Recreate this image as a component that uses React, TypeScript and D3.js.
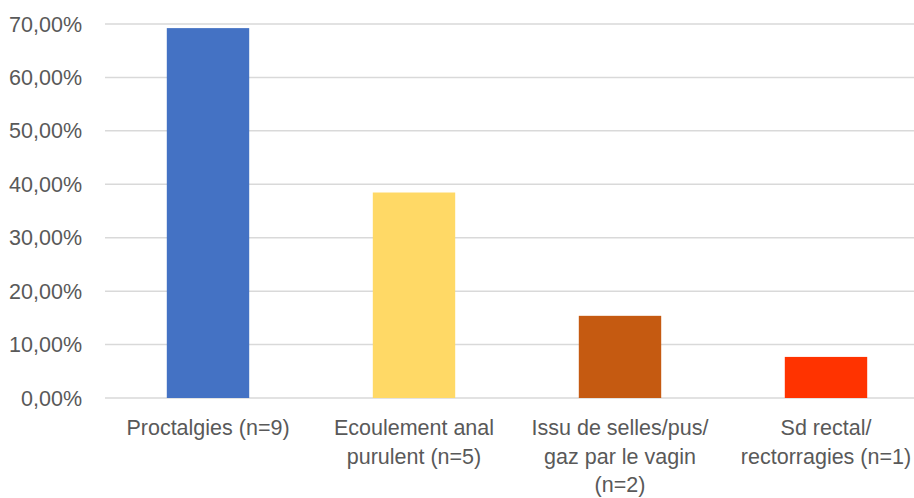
import { scaleBand, scaleLinear } from "d3";
import { useEffect } from "react";

const categories = [
  "Proctalgies (n=9)",
  "Ecoulement anal\npurulent (n=5)",
  "Issu de selles/pus/\ngaz par le vagin\n(n=2)",
  "Sd rectal/\nrectorragies (n=1)",
];
const values = [0.6923, 0.3846, 0.1538, 0.0769];
const colors = ["#4472c4", "#ffd966", "#c55a11", "#ff3300"];
const yTicks = [0, 0.1, 0.2, 0.3, 0.4, 0.5, 0.6, 0.7];

const width = 914;
const height = 498;

const App = () => {
  useEffect(() => {
    document.body.style.margin = "0";
  }, []);

  const x = scaleBand<string>()
    .domain(categories)
    .range([105, 929])
    .paddingInner(0.6)
    .paddingOuter(0.3);
  const y = scaleLinear().domain([0, 0.7]).range([398, 24]);

  const fmt = (v: number) => (v * 100).toFixed(2).replace(".", ",") + "%";

  return (
    <svg width={width} height={height} style={{ display: "block", fontFamily: "'Liberation Sans', Arial, sans-serif" }}>
      <rect width={width} height={height} fill="#fff" />
      {yTicks.map((t) => (
        <g key={t}>
          <line x1={105} x2={width} y1={y(t)} y2={y(t)} stroke="#d9d9d9" strokeWidth={1.5} />
          <text x={82} y={y(t)} dy="0.35em" textAnchor="end" fontSize={21.5} fill="#595959">
            {fmt(t)}
          </text>
        </g>
      ))}
      {categories.map((c, i) => (
        <rect
          key={c}
          x={x(c)}
          y={y(values[i])}
          width={x.bandwidth()}
          height={y(0) - y(values[i])}
          fill={colors[i]}
        />
      ))}
      {categories.map((c) => (
        <text key={c} textAnchor="middle" fontSize={21.5} fill="#595959">
          {c.split("\n").map((line, j) => (
            <tspan key={j} x={(x(c) ?? 0) + x.bandwidth() / 2} y={435 + j * 28.5}>
              {line}
            </tspan>
          ))}
        </text>
      ))}
    </svg>
  );
};

export default App;
